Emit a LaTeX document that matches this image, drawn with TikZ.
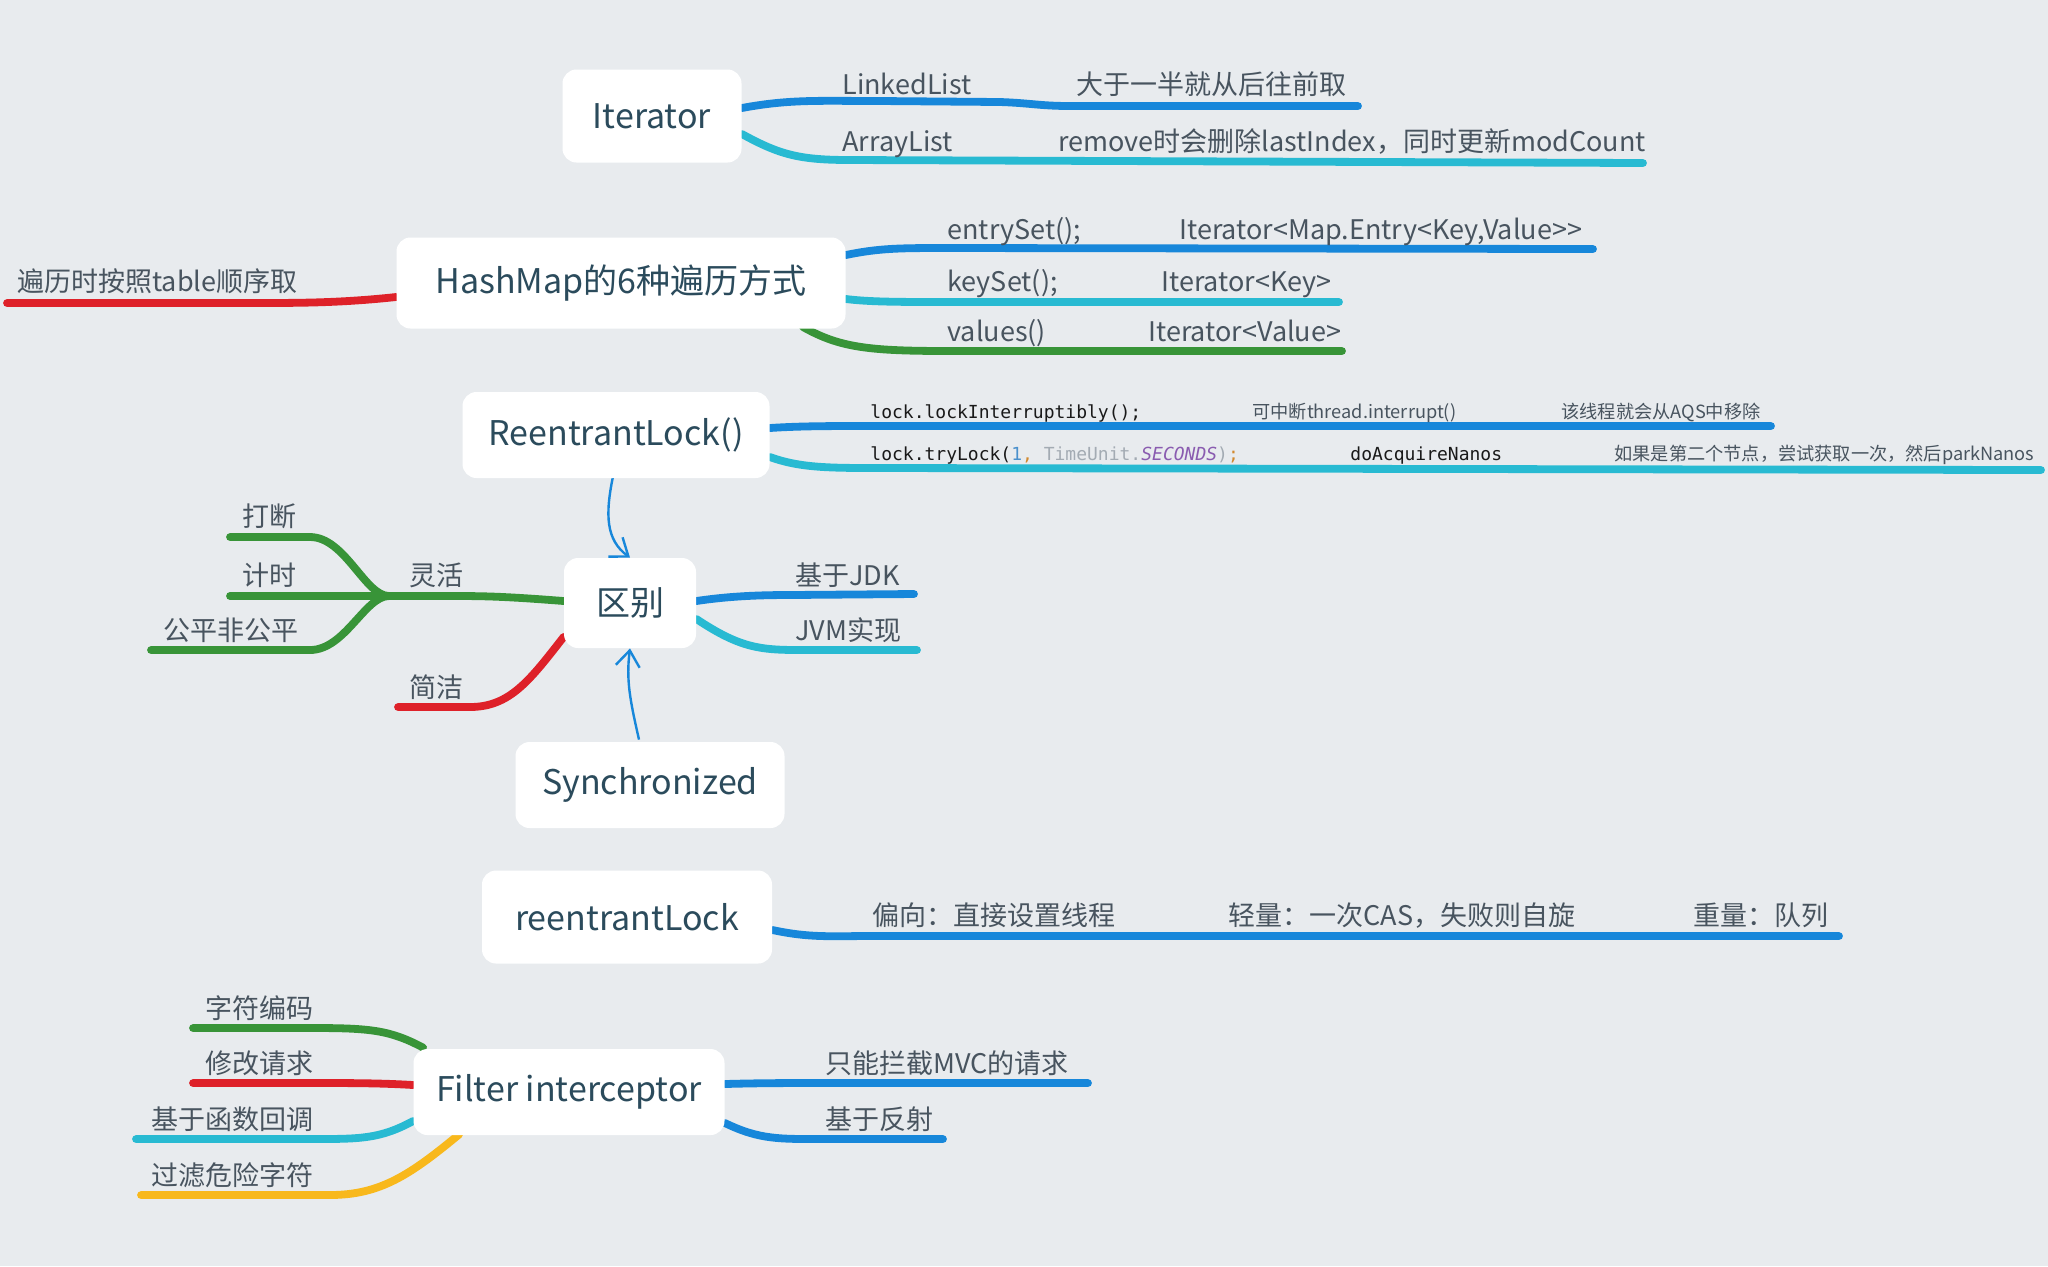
\documentclass[tikz,border=0pt]{standalone}
\usepackage{fontspec}
\setmainfont{Noto Sans CJK SC}
\newfontfamily\codefont{DejaVu Sans Mono}
\usetikzlibrary{arrows.meta}
\definecolor{bgc}{HTML}{E8EBEE}
\definecolor{cblue}{HTML}{1787DA}
\definecolor{ccyan}{HTML}{28BAD2}
\definecolor{cgreen}{HTML}{389438}
\definecolor{cred}{HTML}{DE2129}
\definecolor{cyel}{HTML}{F8B81C}
\definecolor{ltext}{HTML}{48545F}
\definecolor{btext}{HTML}{2B4B5C}
\definecolor{kw1}{HTML}{4A90CC}
\definecolor{kw2}{HTML}{D2892E}
\definecolor{kw3}{HTML}{A3ABB3}
\definecolor{kw4}{HTML}{8A5CB0}
\pgfdeclarelayer{back}
\pgfdeclarelayer{bg}
\pgfsetlayers{back,bg,main}
\tikzset{
  box/.style={fill=white, rounded corners=7pt, text=btext, font=\fontsize{17}{20}\selectfont, inner sep=0pt},
  lbl/.style={anchor=base west, text=ltext, font=\fontsize{13.5}{16}\selectfont, inner sep=0pt},
  sml/.style={anchor=base west, text=ltext, font=\fontsize{9.1}{11}\selectfont, inner sep=0pt},
  code/.style={anchor=base west, text=black!90, font=\codefont\fontsize{9}{11}\selectfont, inner sep=0pt},
  br/.style={line width=3.9pt, line cap=round},
  link/.style={cblue, line width=1.2pt, -{Straight Barb[length=8pt,width=12pt,line width=1.2pt]}}
}
\begin{document}
\begin{tikzpicture}[x=0.5pt,y=-0.5pt]
\begin{pgfonlayer}{back}
\fill[bgc] (0,0) rectangle (2048,1266);
\end{pgfonlayer}
\useasboundingbox (0,0) rectangle (2048,1266);

% ---------- Iterator ----------
\node[box, minimum width=89.5pt, minimum height=46.5pt] (it) at (652,116) {Iterator};
\node[lbl] (ll) at (842,94) {LinkedList};
\node[lbl] (llx) at (1076,94) {大于一半就从后往前取};
\node[lbl] (al) at (842,151) {ArrayList};
\node[lbl] (alx) at (1058,151) {remove时会删除lastIndex，同时更新modCount};
\coordinate (llend) at (1358,106);
\coordinate (alend) at (1643,163);

% ---------- HashMap ----------
\node[box, minimum width=224.5pt, minimum height=45.5pt] (hm) at (621,283) {HashMap的6种遍历方式};
\node[lbl] (tbl) at (17,291) {遍历时按照table顺序取};
\node[lbl] (es) at (947,239) {entrySet();};
\node[lbl] (esx) at (1179,239) {Iterator<Map.Entry<Key,Value>{}>};
\node[lbl] (ks) at (947,291) {keySet();};
\node[lbl] (ksx) at (1161,291) {Iterator<Key>};
\node[lbl] (vs) at (947,341) {values()};
\node[lbl] (vsx) at (1148,341) {Iterator<Value>};
\coordinate (tblend) at (7,303);
\coordinate (esend) at (1593,249);
\coordinate (ksend) at (1339,302);
\coordinate (vsend) at (1342,351);

% ---------- ReentrantLock() ----------
\node[box, minimum width=153.5pt, minimum height=43pt] (rl) at (616,435) {ReentrantLock()};
\node[code] (li) at (870,418) {lock.lockInterruptibly();};
\node[sml] (lix) at (1252,418) {可中断thread.interrupt()};
\node[sml] (liy) at (1561,418) {该线程就会从AQS中移除};
\node[code] (tl) at (870,460) {lock.tryLock(\textcolor{kw1}{1}\textcolor{kw2}{,} \textcolor{kw3}{TimeUnit.}\textcolor{kw4}{\itshape SECONDS}\textcolor{kw3}{)}\textcolor{kw2}{;}};
\node[code] (tlx) at (1350,460) {doAcquireNanos};
\node[sml] (tly) at (1614,460) {如果是第二个节点，尝试获取一次，然后parkNanos};
\coordinate (liend) at (1771,426);
\coordinate (tlend) at (2041,470);

% ---------- 区别 ----------
\node[box, minimum width=66pt, minimum height=45pt] (qb) at (630,603) {区别};
\node[lbl] (jdk) at (795,585) {基于JDK};
\node[lbl] (jvm) at (795,640) {JVM实现};
\node[lbl] (lh) at (409,585) {灵活};
\node[lbl] (dd) at (242,526) {打断};
\node[lbl] (js) at (242,585) {计时};
\node[lbl] (gp) at (163,640) {公平非公平};
\node[lbl] (jj) at (409,697) {简洁};
\coordinate (jn) at (389,596);
\coordinate (jdkend) at (914,594);
\coordinate (jvmend) at (917,650);
\coordinate (ddend) at (230,537);
\coordinate (jsend) at (230,596);
\coordinate (gpend) at (151,650);
\coordinate (jjend) at (398,707);

% ---------- Synchronized ----------
\node[box, minimum width=134.5pt, minimum height=43pt] (sy) at (650,785) {Synchronized};

% ---------- reentrantLock ----------
\node[box, minimum width=145pt, minimum height=46.5pt] (rk) at (627,917) {reentrantLock};
\node[lbl] (px) at (872,925) {偏向：直接设置线程};
\node[lbl] (qx) at (1228,925) {轻量：一次CAS，失败则自旋};
\node[lbl] (zx) at (1693,925) {重量：队列};
\coordinate (rkend) at (1839,936);

% ---------- Filter interceptor ----------
\node[box, minimum width=155.5pt, minimum height=43pt] (fi) at (569,1092) {Filter interceptor};
\node[lbl] (mvc) at (825,1073) {只能拦截MVC的请求};
\node[lbl] (fs) at (825,1129) {基于反射};
\node[lbl] (zf) at (205,1018) {字符编码};
\node[lbl] (xg) at (205,1073) {修改请求};
\node[lbl] (hd) at (151,1129) {基于函数回调};
\node[lbl] (gl) at (151,1185) {过滤危险字符};
\coordinate (mvcend) at (1088,1083);
\coordinate (fsend) at (943,1139);
\coordinate (zfend) at (193,1028);
\coordinate (xgend) at (193,1083);
\coordinate (hdend) at (136,1139);
\coordinate (glend) at (141,1195);

\begin{pgfonlayer}{bg}
% Iterator
\draw[br,cblue] ([yshift=4pt]it.east) .. controls (790,99) and (820,101) .. (880,101) -- (1000,102) .. controls (1030,103) and (1040,106) .. (1070,106) -- (llend);
\draw[br,ccyan] ([yshift=-9pt]it.east) .. controls (780,155) and (800,160) .. (850,160) -- (alend);
% HashMap
\draw[br,cred] ([yshift=-7pt]hm.west) .. controls (340,303) and (300,303) .. (250,303) -- (tblend);
\draw[br,cblue] ([yshift=14pt]hm.east) .. controls (880,248) and (900,248) .. (950,248) -- (esend);
\draw[br,ccyan] ([yshift=-8pt]hm.east) .. controls (870,302) and (900,302) .. (950,302) -- (ksend);
\draw[br,cgreen] (hm.south east) ++(-43,-2) .. controls (840,348) and (870,351) .. (950,351) -- (vsend);
% ReentrantLock()
\draw[br,cblue] ([yshift=3.5pt]rl.east) .. controls (800,426) and (830,426) .. (870,426) -- (liend);
\draw[br,ccyan] ([yshift=-11pt]rl.east) .. controls (800,468) and (830,468) .. (880,468) -- (tlend);
% 区别
\draw[br,cblue] ([yshift=1pt]qb.east) .. controls (730,596) and (760,595) .. (790,595) -- (jdkend);
\draw[br,ccyan] ([yshift=-8pt]qb.east) .. controls (740,648) and (760,650) .. (800,650) -- (jvmend);
\draw[br,cgreen] ([yshift=1pt]qb.west) .. controls (500,596) and (480,596) .. (450,596) -- (jn);
\draw[br,cgreen] (jn) .. controls (365,596) and (345,537) .. (310,537) -- (ddend);
\draw[br,cgreen] (jn) -- (jsend);
\draw[br,cgreen] (jn) .. controls (365,596) and (345,650) .. (310,650) -- (gpend);
\draw[br,cred] ([yshift=-17pt]qb.west) .. controls (530,680) and (510,707) .. (470,707) -- (jjend);
\draw[link] (rl.south) ++(-3,-2) .. controls (605,515) and (606,540) .. (qb.north);
\draw[link] (sy.north) ++(-11,-2) .. controls (630,700) and (626,680) .. (qb.south);
% reentrantLock
\draw[br,cblue] ([yshift=-6.5pt]rk.east) .. controls (810,938) and (830,936) .. (872,936) -- (rkend);
% Filter
\draw[br,cblue] ([yshift=4pt]fi.east) .. controls (760,1083) and (790,1083) .. (825,1083) -- (mvcend);
\draw[br,cblue] ([yshift=-15.5pt]fi.east) .. controls (760,1140) and (780,1139) .. (825,1139) -- (fsend);
\draw[br,cgreen] (fi.north west) ++(10,-1) .. controls (390,1030) and (370,1028) .. (313,1028) -- (zfend);
\draw[br,cred] ([yshift=3.5pt]fi.west) .. controls (380,1083) and (350,1083) .. (313,1083) -- (xgend);
\draw[br,ccyan] ([yshift=-14.5pt]fi.west) .. controls (380,1139) and (360,1139) .. (313,1139) -- (hdend);
\draw[br,cyel] (fi.south west) ++(46,-1) .. controls (410,1175) and (380,1195) .. (330,1195) -- (glend);
\end{pgfonlayer}
\end{tikzpicture}
\end{document}
